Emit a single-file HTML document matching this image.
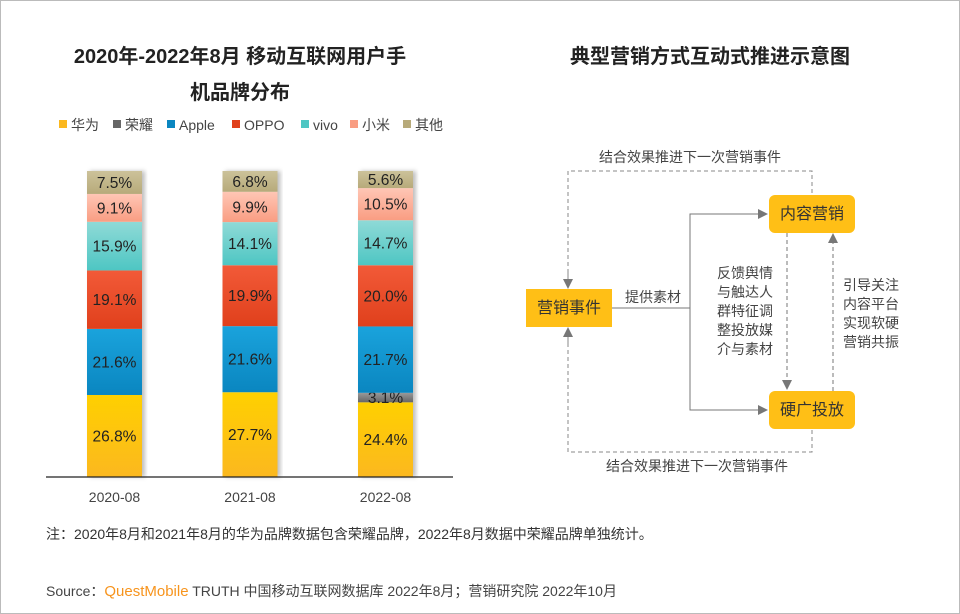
<!DOCTYPE html>
<html><head><meta charset="utf-8"><style>
body{margin:0;width:960px;height:614px;overflow:hidden;background:#fff;font-family:"Liberation Sans","Noto Sans CJK SC",sans-serif;}
#frame{position:absolute;left:0;top:0;width:958px;height:612px;border:1px solid #bbb;}
svg{position:absolute;left:0;top:0;}
</style></head><body>
<div id="frame"></div>
<svg width="960" height="614" id="svg" font-family="Liberation Sans, Noto Sans CJK SC, sans-serif">
<defs>
<marker id="ah" markerWidth="10" markerHeight="10" refX="9" refY="5" orient="auto" markerUnits="userSpaceOnUse"><path d="M0,0 L10,5 L0,10 z" fill="#777"/></marker>
<filter id="sh"><feDropShadow dx="3" dy="0" stdDeviation="2" flood-color="#000" flood-opacity="0.25"/></filter>
</defs>
<text x="240" y="63" text-anchor="middle" font-size="20" font-weight="bold" fill="#222">2020年-2022年8月 移动互联网用户手</text>
<text x="240" y="99" text-anchor="middle" font-size="20" font-weight="bold" fill="#222">机品牌分布</text>
<text x="710" y="63" text-anchor="middle" font-size="20" font-weight="bold" fill="#222">典型营销方式互动式推进示意图</text>
<g id="legend"></g>
<g id="bars"></g>
<line x1="46" y1="477" x2="453" y2="477" stroke="#222" stroke-width="1.2"/>
<g id="xlabels"></g>

<g font-size="14" fill="#444">
<polyline points="568,287 568,171 812,171 812,195" fill="none" stroke="#888" stroke-dasharray="4,3"/>
<polyline points="568,329 568,452 812,452 812,429" fill="none" stroke="#888" stroke-dasharray="4,3"/>
<line x1="568" y1="270" x2="568" y2="288" stroke="#888" marker-end="url(#ah)"/>
<line x1="568" y1="345" x2="568" y2="328" stroke="#888" marker-end="url(#ah)"/>
<text x="690" y="162" text-anchor="middle" fill="#444">结合效果推进下一次营销事件</text>
<text x="697" y="471" text-anchor="middle" fill="#444">结合效果推进下一次营销事件</text>
<polyline points="612,308 690,308 690,214 767,214" fill="none" stroke="#777" marker-end="url(#ah)"/>
<polyline points="690,308 690,410 767,410" fill="none" stroke="#777" marker-end="url(#ah)"/>
<line x1="787" y1="233" x2="787" y2="389" stroke="#777" stroke-dasharray="4,3" marker-end="url(#ah)"/>
<line x1="833" y1="391" x2="833" y2="234" stroke="#777" stroke-dasharray="4,3" marker-end="url(#ah)"/>
<rect x="526" y="289" width="86" height="38" fill="#FFBF16"/>
<text x="569" y="313" text-anchor="middle" fill="#333" font-size="16">营销事件</text>
<rect x="769" y="195" width="86" height="38" rx="6" fill="#FFBF16"/>
<text x="812" y="219" text-anchor="middle" fill="#333" font-size="16">内容营销</text>
<rect x="769" y="391" width="86" height="38" rx="6" fill="#FFBF16"/>
<text x="812" y="415" text-anchor="middle" fill="#333" font-size="16">硬广投放</text>
<text x="653" y="302" text-anchor="middle">提供素材</text>
<g>
<text x="745" y="278" text-anchor="middle">反馈舆情</text>
<text x="745" y="297" text-anchor="middle">与触达人</text>
<text x="745" y="316" text-anchor="middle">群特征调</text>
<text x="745" y="335" text-anchor="middle">整投放媒</text>
<text x="745" y="354" text-anchor="middle">介与素材</text>
</g>
<g>
<text x="871" y="290" text-anchor="middle">引导关注</text>
<text x="871" y="309" text-anchor="middle">内容平台</text>
<text x="871" y="328" text-anchor="middle">实现软硬</text>
<text x="871" y="347" text-anchor="middle">营销共振</text>
</g>
</g>
<text x="46" y="539" font-size="14" fill="#333">注：2020年8月和2021年8月的华为品牌数据包含荣耀品牌，2022年8月数据中荣耀品牌单独统计。</text>
<text x="46" y="596" font-size="14" fill="#444">Source：<tspan fill="#F7941D" font-size="15">QuestMobile</tspan> TRUTH 中国移动互联网数据库 2022年8月；营销研究院 2022年10月</text>
</svg>
<script>
const categories=["2020-08","2021-08","2022-08"];
const seriesNames=["华为","荣耀","Apple","OPPO","vivo","小米","其他"];
const huawei=[26.8,27.7,24.4];
const honor=[0,0,3.1];
const apple=[21.6,21.6,21.7];
const oppo=[19.1,19.9,20.0];
const vivo=[15.9,14.1,14.7];
const xiaomi=[9.1,9.9,10.5];
const others=[7.5,6.8,5.6];
const series=[huawei,honor,apple,oppo,vivo,xiaomi,others];
const colors=[["#FFD000","#FBB81F"],["#999","#666"],["#1AA3DC","#0A86C0"],["#F25A38","#E0401C"],["#8FDAD7","#4EC6C3"],["#FFC6B5","#F99D82"],["#CCC29A","#B7AA7A"]];
const NS="http://www.w3.org/2000/svg";
const svg=document.getElementById('svg');
const defs=svg.querySelector('defs');
colors.forEach((c,i)=>{const g=document.createElementNS(NS,'linearGradient');g.setAttribute('id','g'+i);g.setAttribute('x1','0');g.setAttribute('y1','0');g.setAttribute('x2','0');g.setAttribute('y2','1');
g.innerHTML=`<stop offset="0" stop-color="${c[0]}"/><stop offset="1" stop-color="${c[1]}"/>`;defs.appendChild(g);});
const base=477, top0=171, barW=55;
const xc=i=>87+i*135.5+barW/2;
const y=v=>base-v/100*(base-top0);
const bars=document.getElementById('bars');
categories.forEach((cat,i)=>{
  let total=series.reduce((s,a)=>s+a[i],0);
  const sh=document.createElementNS(NS,'rect');
  sh.setAttribute('x',xc(i)-barW/2);sh.setAttribute('y',y(total));sh.setAttribute('width',barW);sh.setAttribute('height',base-y(total));sh.setAttribute('fill','#fff');sh.setAttribute('filter','url(#sh)');
  
  
  bars.appendChild(sh);
  let cum=0;
  series.forEach((s,k)=>{
    const v=s[i]; if(!v) return;
    const r=document.createElementNS(NS,'rect');
    r.setAttribute('x',xc(i)-barW/2);r.setAttribute('y',y(cum+v));r.setAttribute('width',barW);r.setAttribute('height',y(cum)-y(cum+v));r.setAttribute('fill','url(#g'+k+')');
    
    
    bars.appendChild(r);
    const t=document.createElementNS(NS,'text');
    t.setAttribute('x',xc(i));t.setAttribute('y',(y(cum)+y(cum+v))/2+5.5);t.setAttribute('text-anchor','middle');t.setAttribute('font-size','15.5');t.setAttribute('fill','#222');
    t.textContent=v.toFixed(1)+'%';
    
    
    bars.appendChild(t);
    cum+=v;
  });
  const l=document.createElementNS(NS,'text');
  l.setAttribute('x',xc(i));l.setAttribute('y',502);l.setAttribute('text-anchor','middle');l.setAttribute('font-size','14');l.setAttribute('fill','#444');
  l.textContent=cat;
  
  
  document.getElementById('xlabels').appendChild(l);
});
const lg=document.getElementById('legend');
const lx=[59,113,167,232,301,350,403];
seriesNames.forEach((n,k)=>{
  const g=document.createElementNS(NS,'g');
  
  
  g.innerHTML=`<rect x="${lx[k]}" y="120" width="8" height="8" fill="${colors[k][1]}"/><text x="${lx[k]+12}" y="130" font-size="14" fill="#444">${n}</text>`;
  lg.appendChild(g);
});
</script>
</body></html>
